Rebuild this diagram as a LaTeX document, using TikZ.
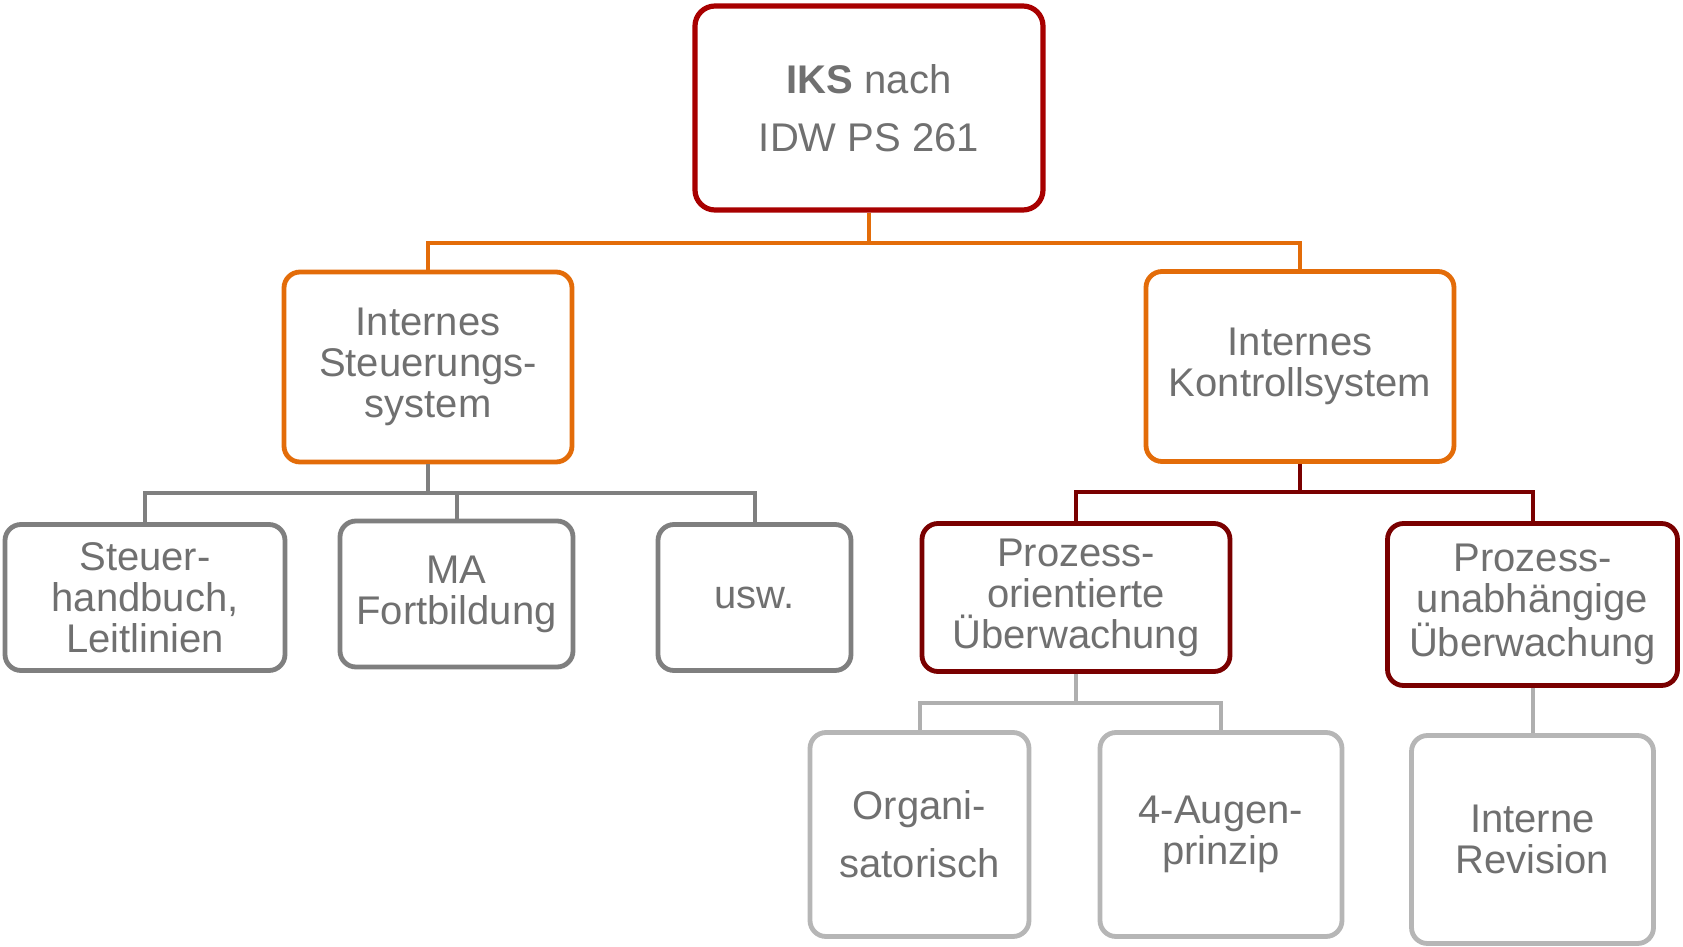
\documentclass[tikz,border=0pt]{standalone}
\usepackage{fontspec}
\setmainfont{Liberation Sans}
\usepackage{xcolor}
\usepackage{tikz}
\usetikzlibrary{positioning,calc}

\definecolor{iksred}{RGB}{168,0,0}
\definecolor{iksorange}{RGB}{227,108,9}
\definecolor{iksdark}{RGB}{122,0,0}
\definecolor{iksgray}{RGB}{127,127,127}
\definecolor{ikslight}{RGB}{182,182,182}
\definecolor{ikstext}{RGB}{112,112,112}

\begin{document}
\begin{tikzpicture}[
    x=0.5pt, y=-0.5pt,
    box/.style={rectangle, draw, rounded corners=8pt, fill=white, align=center, text=ikstext,
        line width=2.4pt, inner sep=0pt, font=\fontsize{20}{20.5}\selectfont},
    wide/.style={font=\fontsize{20}{29}\selectfont},
    link/.style={line width=2pt}
]
    \useasboundingbox (0,0) rectangle (1683,947);

    % Root
    \node[box, wide, draw=iksred, line width=2.6pt, rounded corners=10pt, minimum width=174pt, minimum height=102pt] (root) at (869,108) {\textbf{IKS} nach\\IDW PS 261};

    % Second level
    \node[box, draw=iksorange, minimum width=144pt, minimum height=95pt] (steuer) at (428,367) {Internes\\Steuerungs-\\system};
    \node[box, draw=iksorange, minimum width=154pt, minimum height=95pt] (kontroll) at (1300,366.5) {Internes\\Kontrollsystem};

    % Children of Steuerungssystem
    \node[box, draw=iksgray, minimum width=140pt, minimum height=73pt] (handbuch) at (145,597.5) {Steuer-\\handbuch,\\Leitlinien};
    \node[box, draw=iksgray, minimum width=116.5pt, minimum height=73pt] (fortbildung) at (456.5,594) {MA\\Fortbildung};
    \node[box, draw=iksgray, minimum width=96.5pt, minimum height=73pt] (usw) at (754.5,597.5) {usw.};

    % Children of Kontrollsystem
    \node[box, draw=iksdark, minimum width=154pt, minimum height=74pt] (orient) at (1076,597.5) {Prozess-\\orientierte\\Überwachung};
    \node[box, draw=iksdark, minimum width=145pt, minimum height=81pt] (unabh) at (1532.5,604.5) {Prozess-\\unabhängige\\Überwachung};

    % Bottom level
    \node[box, wide, draw=ikslight, minimum width=109.5pt, minimum height=102pt] (organ) at (919.5,834.5) {Organi-\\satorisch};
    \node[box, draw=ikslight, minimum width=121pt, minimum height=102pt] (augen) at (1221,834.5) {4-Augen-\\prinzip};
    \node[box, draw=ikslight, minimum width=121pt, minimum height=104pt] (revision) at (1532.5,839.5) {Interne\\Revision};

    % Connectors
    \draw[link, iksorange] (root.south) -- ++(0,30) -| (steuer.north);
    \draw[link, iksorange] (root.south) -- ++(0,30) -| (kontroll.north);
    \draw[link, iksgray] (steuer.south) -- ++(0,29) -| (handbuch.north);
    \draw[link, iksgray] (steuer.south) -- ++(0,29) -| (fortbildung.north);
    \draw[link, iksgray] (steuer.south) -- ++(0,29) -| (usw.north);
    \draw[link, iksdark] (kontroll.south) -- ++(0,28) -| (orient.north);
    \draw[link, iksdark] (kontroll.south) -- ++(0,28) -| (unabh.north);
    \draw[link, ikslight!110] (orient.south) -- ++(0,29) -| (organ.north);
    \draw[link, ikslight!110] (orient.south) -- ++(0,29) -| (augen.north);
    \draw[link, ikslight!110] (unabh.south) -- (revision.north);
\end{tikzpicture}
\end{document}
